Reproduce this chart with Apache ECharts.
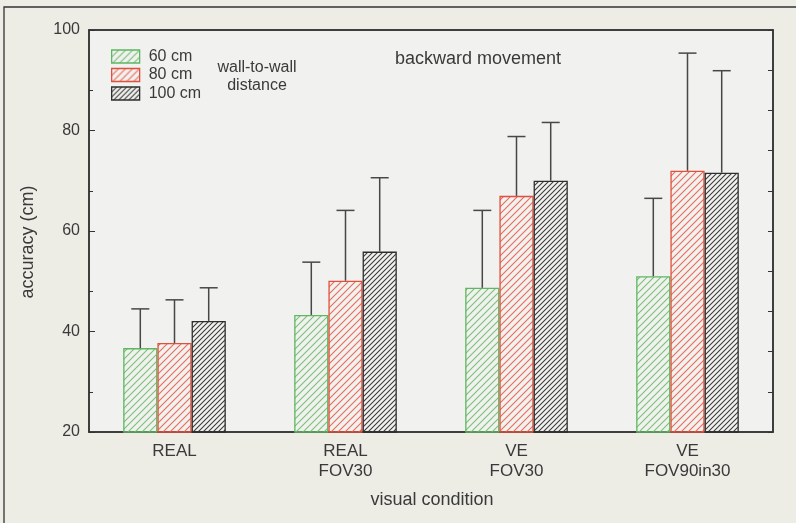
<!DOCTYPE html>
<html><head><meta charset="utf-8">
<script src="https://cdn.jsdelivr.net/npm/echarts@6/dist/echarts.min.js"></script>
<style>html,body{margin:0;padding:0;background:#edece5;}#c{width:796px;height:523px;}</style>
</head><body><div id="c"></div>
<script>
const categories = ['REAL', 'REAL\nFOV30', 'VE\nFOV30', 'VE\nFOV90in30'];
const seriesNames = ['60 cm', '80 cm', '100 cm'];
const mean60 = [36.7, 43.3, 48.7, 51.0];
const mean80 = [37.7, 50.1, 67.0, 72.0];
const mean100 = [42.1, 55.9, 70.0, 71.6];
const err60 = [44.5, 53.8, 64.1, 66.5];
const err80 = [46.3, 64.1, 78.8, 95.4];
const err100 = [48.7, 70.6, 81.6, 91.9];
const yTicks = [20, 40, 60, 80, 100];
const yMinorTicks = [28, 48, 68, 88];

const borderColors = ['#5fb760', '#e2503d', '#2e2e2e'];
const hatchColors = ['#78c078', '#e66c5a', '#3c3c3c'];
const hatchSpacing = [7, 7, 5];

function hatch(color, n) {
  const c = document.createElement('canvas');
  c.width = n; c.height = n;
  const ctx = c.getContext('2d');
  ctx.strokeStyle = color; ctx.lineWidth = 1.1;
  ctx.beginPath();
  ctx.moveTo(0, n); ctx.lineTo(n, 0);
  ctx.moveTo(-1, 1); ctx.lineTo(1, -1);
  ctx.moveTo(n - 1, n + 1); ctx.lineTo(n + 1, n - 1);
  ctx.stroke();
  return c;
}

const means = [mean60, mean80, mean100];
const errs = [err60, err80, err100];

const barSeries = seriesNames.map((name, i) => ({
  name: name,
  type: 'bar',
  xAxisIndex: 0, yAxisIndex: 0,
  barGap: '0%',
  barCategoryGap: '40%',
  data: means[i],
  itemStyle: {
    color: { image: hatch(hatchColors[i], hatchSpacing[i]), repeat: 'repeat' },
    borderColor: borderColors[i],
    borderWidth: 1.3
  },
  silent: true
}));

const errData = [];
for (let s = 0; s < 3; s++) {
  for (let k = 0; k < categories.length; k++) {
    errData.push([k, s, means[s][k], errs[s][k]]);
  }
}

const errSeries = {
  type: 'custom',
  xAxisIndex: 0, yAxisIndex: 0,
  data: errData,
  encode: { x: 0, y: 3 },
  z: 5,
  silent: true,
  renderItem: function (params, api) {
    const cat = api.value(0);
    const s = api.value(1);
    const base = api.coord([cat, api.value(2)]);
    const top = api.coord([cat, api.value(3)]);
    const band = api.size([1, 0])[0];
    const barW = band * 0.6 / 3;
    const cx = base[0] + (s - 1) * barW;
    const half = 9;
    const st = { stroke: '#474747', lineWidth: 1.5 };
    return {
      type: 'group',
      children: [
        { type: 'line', shape: { x1: cx, y1: base[1], x2: cx, y2: top[1] }, style: st },
        { type: 'line', shape: { x1: cx - half, y1: top[1], x2: cx + half, y2: top[1] }, style: st }
      ]
    };
  }
};

const txt = '#3a3a3a';
const font = 'Arial, "Liberation Sans", sans-serif';

const option = {
  backgroundColor: '#edece5',
  animation: false,
  textStyle: { fontFamily: font },
  grid: {
    left: 89, right: 23, top: 30, bottom: 91,
    show: true, backgroundColor: '#f1f1ef', borderColor: '#333', borderWidth: 1.5
  },
  legend: {
    orient: 'vertical',
    left: 111, top: 48.5,
    padding: 0,
    itemWidth: 28, itemHeight: 13, itemGap: 2.5,
    icon: 'rect',
    textStyle: { fontSize: 16, lineHeight: 16, color: txt, fontFamily: font, padding: [0, 0, 0, 4] },
    data: seriesNames.map((n, i) => ({
      name: n,
      itemStyle: {
        color: { image: hatch(hatchColors[i], hatchSpacing[i]), repeat: 'repeat' },
        borderColor: borderColors[i], borderWidth: 1.3
      }
    }))
  },
  xAxis: [
    {
      type: 'category', data: categories, position: 'bottom',
      axisLine: { lineStyle: { color: '#333', width: 1.5 } },
      axisTick: { alignWithLabel: true, inside: true, length: 5, lineStyle: { color: '#333' } },
      axisLabel: { fontSize: 17, color: txt, lineHeight: 20, margin: 9 }
    },
    {
      type: 'category', data: categories, position: 'top',
      axisLine: { lineStyle: { color: '#333', width: 1.5 } },
      axisTick: { alignWithLabel: true, inside: true, length: 5, lineStyle: { color: '#333' } },
      axisLabel: { show: false }
    }
  ],
  yAxis: [
    {
      type: 'value', min: yTicks[0], max: yTicks[yTicks.length - 1], interval: 20,
      axisLine: { show: true, lineStyle: { color: '#333', width: 1.5 } },
      axisTick: { show: true, inside: true, length: 6, lineStyle: { color: '#333' } },
      axisLabel: { fontSize: 16, color: txt, margin: 9 },
      splitLine: { show: false }
    },
    {
      type: 'value', min: 0, max: 10, interval: 1, position: 'right',
      axisLine: { show: true, lineStyle: { color: '#333', width: 1.5 } },
      axisTick: { show: true, inside: true, length: 5, lineStyle: { color: '#333' } },
      axisLabel: { show: false },
      splitLine: { show: false }
    },
    {
      type: 'value', min: yTicks[0], max: yTicks[yTicks.length - 1], position: 'left',
      axisLine: { show: false },
      axisTick: { show: true, inside: true, length: 4, customValues: yMinorTicks, lineStyle: { color: '#333' } },
      axisLabel: { show: false },
      splitLine: { show: false }
    }
  ],
  graphic: [
    { type: 'polyline', shape: { points: [[4, 523], [4, 7], [796, 7]] }, style: { fill: null, stroke: '#333', lineWidth: 1.3 }, z: 100 },
    { type: 'text', x: 28, y: 242, rotation: Math.PI / 2,
      style: { text: 'accuracy (cm)', fill: txt, font: '18px ' + font, align: 'center', verticalAlign: 'middle' } },
    { type: 'text', x: 432, y: 500,
      style: { text: 'visual condition', fill: txt, font: '18px ' + font, align: 'center', verticalAlign: 'middle' } },
    { type: 'text', x: 257, y: 77,
      style: { text: 'wall-to-wall\ndistance', fill: txt, font: '16px ' + font, lineHeight: 18, align: 'center', verticalAlign: 'middle' } },
    { type: 'text', x: 478, y: 59,
      style: { text: 'backward movement', fill: txt, font: '18px ' + font, align: 'center', verticalAlign: 'middle' } }
  ],
  series: barSeries.concat([errSeries])
};

const chart = echarts.init(document.getElementById('c'), null, { renderer: 'canvas' });
chart.setOption(option);
</script>
</body></html>
